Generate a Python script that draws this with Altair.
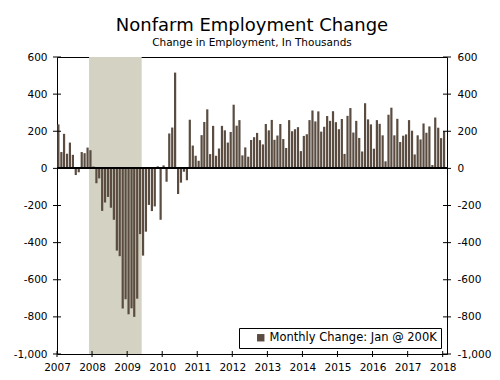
import altair as alt
import pandas as pd

# Monthly nonfarm payroll change (thousands), Jan 2007 .. Jan 2018
chg_2007 = [237, 88, 186, 79, 139, 73, -36, -21, 88, 82, 112, 98]
chg_2008 = [10, -80, -54, -229, -184, -154, -212, -277, -443, -473, -755, -705]
chg_2009 = [-786, -754, -800, -702, -354, -470, -341, -197, -230, -205, 11, -277]
chg_2010 = [16, -72, 188, 220, 516, -138, -77, -18, -64, 262, 123, 68]
chg_2011 = [41, 179, 250, 318, 77, 229, 68, 107, 229, 205, 139, 196]
chg_2012 = [343, 230, 260, 70, 113, 63, 153, 168, 191, 152, 129, 239]
chg_2013 = [205, 261, 154, 177, 239, 158, 110, 260, 200, 211, 222, 93]
chg_2014 = [175, 184, 260, 312, 253, 307, 198, 224, 282, 256, 308, 249]
chg_2015 = [211, 266, 78, 283, 325, 193, 256, 164, 91, 351, 264, 237]
chg_2016 = [106, 260, 240, 178, 38, 289, 327, 178, 267, 142, 176, 183]
chg_2017 = [260, 203, 75, 178, 156, 242, 192, 226, 18, 274, 219, 163]
chg_2018 = [201]

series_label = "Monthly Change: Jan @ 200K"
recession = ("2007-12-01", "2009-06-01")
y_ticks = [-1000, -800, -600, -400, -200, 0, 200, 400, 600]
year_ticks = list(range(2007, 2019))

change = (chg_2007 + chg_2008 + chg_2009 + chg_2010 + chg_2011 + chg_2012 +
          chg_2013 + chg_2014 + chg_2015 + chg_2016 + chg_2017 + chg_2018)
months = pd.date_range("2007-01-01", periods=len(change), freq="MS")

bars_df = pd.DataFrame({
    "start": months + pd.Timedelta(days=3),
    "end": months + pd.Timedelta(days=26),
    "change": change,
    "series": series_label,
})
shade_df = pd.DataFrame({"start": [pd.Timestamp(recession[0])],
                         "end": [pd.Timestamp(recession[1])]})
ytick_df = pd.DataFrame({"v": y_ticks})
xtick_df = pd.DataFrame({"d": [pd.Timestamp(f"{y}-01-01") for y in year_ticks]})

FONT = "DejaVu Sans"
x_start = alt.DateTime(year=2007, month=1, date=1)
x_end = alt.DateTime(year=2018, month=2, date=15)
xscale = alt.Scale(domain=[x_start, x_end])
yscale = alt.Scale(domain=[-1000, 600], nice=False, zero=False)
label_expr = "replace(datum.label, '\u2212', '-')"

x_axis = alt.Axis(values=[alt.DateTime(year=y, month=1, date=1) for y in year_ticks],
                  format="%Y", labelPadding=8, title=None)


def y_axis(orient):
    return alt.Axis(orient=orient, values=y_ticks, format=",.0f",
                    labelExpr=label_expr, labelPadding=10, title=None)


shade = alt.Chart(shade_df).mark_rect(color="#d3d2c3").encode(
    x=alt.X("start:T", scale=xscale, axis=x_axis),
    x2="end:T",
)

bars = alt.Chart(bars_df).mark_rect().encode(
    x=alt.X("start:T", scale=xscale, axis=x_axis),
    x2="end:T",
    y=alt.Y("change:Q", scale=yscale, axis=y_axis("left")),
    y2=alt.datum(0),
    color=alt.Color("series:N", scale=alt.Scale(range=["#5a4c40"]),
                    legend=alt.Legend(title=None, orient="bottom-right", offset=6,
                                      strokeColor="black", fillColor="white",
                                      padding=4, symbolType="square", symbolSize=55,
                                      symbolOffset=12, labelOffset=3,
                                      symbolStrokeWidth=0, labelLimit=0,
                                      labelFontSize=11.5, labelFont=FONT,
                                      labelColor="black")),
)

zero = alt.Chart(bars_df).mark_rule(color="black", strokeWidth=1).encode(
    y=alt.Y(datum=0, type="quantitative", scale=yscale, axis=y_axis("left"))
)

left_ticks = alt.Chart(ytick_df).mark_tick(
    color="black", orient="horizontal", size=8, thickness=1, opacity=1
).encode(
    x=alt.X(datum=x_start, type="temporal", scale=xscale, axis=x_axis),
    y=alt.Y("v:Q", scale=yscale, axis=y_axis("left")),
)

x_ticks = alt.Chart(xtick_df).mark_tick(
    color="black", orient="vertical", size=6, thickness=1, opacity=1
).encode(
    x=alt.X("d:T", scale=xscale, axis=x_axis),
    y=alt.Y(datum=-1000, type="quantitative", scale=yscale, axis=y_axis("left")),
)

main = alt.layer(shade, bars, zero, left_ticks, x_ticks)

right = alt.Chart(ytick_df).mark_tick(
    color="black", orient="horizontal", size=8, thickness=1, opacity=1
).encode(
    x=alt.X(datum=x_end, type="temporal", scale=xscale, axis=x_axis),
    y=alt.Y("v:Q", scale=yscale, axis=y_axis("right")),
)

chart = alt.layer(main, right).resolve_scale(y="independent").properties(
    width=390,
    height=297,
    autosize=alt.AutoSizeParams(type="none"),
    padding={"left": 49, "top": 49, "right": 45, "bottom": 18},
    title=alt.TitleParams("Nonfarm Employment Change",
                          subtitle="Change in Employment, In Thousands",
                          font=FONT, fontSize=18, fontWeight="normal",
                          color="black", subtitleFont=FONT,
                          subtitleFontSize=10.5, subtitleColor="black",
                          anchor="middle", frame="group", offset=4,
                          subtitlePadding=3),
).configure_view(stroke="black", strokeWidth=1).configure_axis(
    labelOverlap=False, labelFlush=False, ticks=False, tickSize=0,
    domain=False, grid=False, labelFont=FONT, labelFontSize=10.5,
    labelColor="black",
)

chart.save("out.html", embed_options={"renderer": "svg", "actions": False})
